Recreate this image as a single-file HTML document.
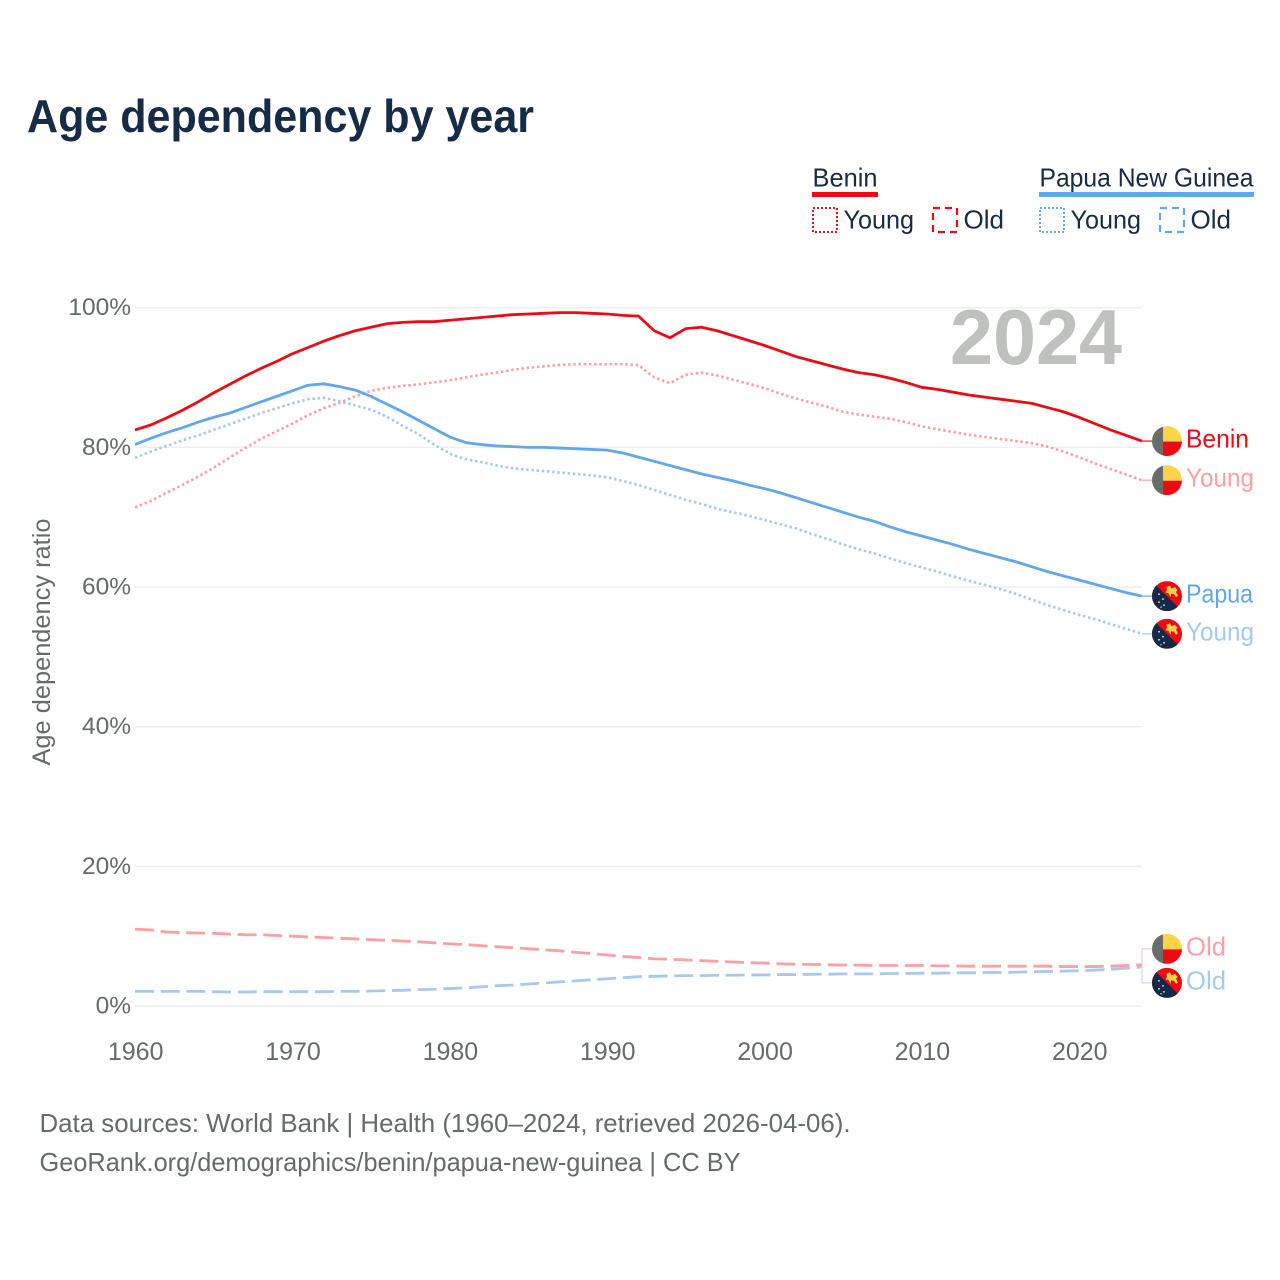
<!DOCTYPE html>
<html lang="en">
<head>
<meta charset="utf-8">
<title>Age dependency by year</title>
<style>
html,body{margin:0;padding:0;background:#fff;}
svg{display:block;}
text{font-family:"Liberation Sans",sans-serif;}
</style>
</head>
<body>
<svg id="chart" width="1280" height="1280" viewBox="0 0 1280 1280" xmlns="http://www.w3.org/2000/svg">
  <defs>
    <clipPath id="flag-clip"><circle cx="0" cy="0" r="15"/></clipPath>
    <symbol id="flag-benin" viewBox="-15 -15 30 30" width="30" height="30" overflow="visible">
      <g clip-path="url(#flag-clip)">
        <rect x="-15" y="-15" width="11" height="30" fill="#696d69"/>
        <rect x="-4" y="-15" width="19" height="15.5" fill="#fdd447"/>
        <rect x="-4" y="0.5" width="19" height="14.5" fill="#ec0b15"/>
      </g>
    </symbol>
    <symbol id="flag-png" viewBox="-15 -15 30 30" width="30" height="30" overflow="visible">
      <g clip-path="url(#flag-clip)">
        <rect x="-15" y="-15" width="30" height="30" fill="#ec0b15"/>
        <polygon points="-15,-15 15,15 -15,15" fill="#152a47"/>
        <polygon points="-0.5,-9 3,-10.5 4.5,-7.5 8,-9 10.5,-6 9,-4 11,-0.5 9,1 7,-2 4,-2.5 3.5,1 1.5,-3 -1.5,-3.5 0,-6" fill="#fdd447"/>
        <circle cx="-8" cy="-2" r="0.9" fill="#e8e8e8"/>
        <circle cx="-4" cy="3" r="0.9" fill="#e8e8e8"/>
        <circle cx="-8" cy="6" r="0.9" fill="#e8e8e8"/>
        <circle cx="-3" cy="9" r="0.9" fill="#e8e8e8"/>
        <circle cx="-6" cy="11" r="0.7" fill="#e8e8e8"/>
      </g>
    </symbol>
  </defs>

  <text x="27" y="132" font-size="46" font-weight="700" fill="#172b47" textLength="507" lengthAdjust="spacingAndGlyphs">Age dependency by year</text>

  <g>
    <g>
      <text x="812.5" y="186.5" font-size="26" fill="#172b47" textLength="65" lengthAdjust="spacingAndGlyphs">Benin</text>
      <rect x="812" y="192" width="66" height="5" fill="#ec0b15"/>
      <rect x="813" y="208" width="24" height="24" fill="none" stroke="#ec0b15" stroke-width="2" stroke-dasharray="2 2"/>
      <text x="843.5" y="228.5" font-size="26" fill="#172b47" textLength="70.5" lengthAdjust="spacingAndGlyphs">Young</text>
      <rect x="933" y="208" width="24" height="24" fill="none" stroke="#ec0b15" stroke-width="2.2" stroke-dasharray="7 5"/>
      <text x="963.5" y="228.5" font-size="26" fill="#172b47" textLength="40.5" lengthAdjust="spacingAndGlyphs">Old</text>
    </g>
    <g>
      <text x="1039.5" y="186.5" font-size="26" fill="#172b47" textLength="214" lengthAdjust="spacingAndGlyphs">Papua New Guinea</text>
      <rect x="1039" y="192" width="215" height="5" fill="#62a6ec"/>
      <rect x="1040" y="208" width="24" height="24" fill="none" stroke="#62a6ec" stroke-width="2" stroke-dasharray="2 2"/>
      <text x="1070.5" y="228.5" font-size="26" fill="#172b47" textLength="70.5" lengthAdjust="spacingAndGlyphs">Young</text>
      <rect x="1160" y="208" width="24" height="24" fill="none" stroke="#62a6ec" stroke-width="2.2" stroke-dasharray="7 5"/>
      <text x="1190.5" y="228.5" font-size="26" fill="#172b47" textLength="40.5" lengthAdjust="spacingAndGlyphs">Old</text>
    </g>
  </g>

  <g id="grid"></g>
  <text x="950" y="364" font-size="78" font-weight="700" fill="#bfc1bf" textLength="172" lengthAdjust="spacingAndGlyphs">2024</text>
  <g id="y-ticks"></g>
  <g id="x-ticks"></g>
  <text transform="translate(50,642) rotate(-90)" text-anchor="middle" font-size="25" fill="#666b67" textLength="247" lengthAdjust="spacingAndGlyphs">Age dependency ratio</text>
  <g id="series"></g>
  <g id="end-labels"></g>

  <text x="39.5" y="1132" font-size="26" fill="#666b67" textLength="811" lengthAdjust="spacingAndGlyphs">Data sources: World Bank | Health (1960–2024, retrieved 2026-04-06).</text>
  <text x="39.5" y="1171" font-size="26" fill="#666b67" textLength="701" lengthAdjust="spacingAndGlyphs">GeoRank.org/demographics/benin/papua-new-guinea | CC BY</text>
</svg>

<script>
const firstYear = 1960;
const lastYear = 2024;
const xTickLabels = [1960, 1970, 1980, 1990, 2000, 2010, 2020];
const yTickLabels = [0, 20, 40, 60, 80, 100];

const beninTotal = [
  82.5,83.2,84.2,85.3,86.5,87.8,89.0,90.2,91.3,92.3,
  93.4,94.3,95.2,96.0,96.7,97.2,97.7,97.9,98.0,98.0,
  98.2,98.4,98.6,98.8,99.0,99.1,99.2,99.3,99.3,99.2,
  99.1,98.9,98.8,96.7,95.7,97.0,97.2,96.7,96.0,95.3,
  94.6,93.8,93.0,92.4,91.8,91.2,90.7,90.4,89.9,89.3,
  88.6,88.3,87.9,87.5,87.2,86.9,86.6,86.3,85.7,85.1,
  84.3,83.4,82.5,81.7,80.9];
const beninYoung = [
  71.4,72.3,73.5,74.6,75.8,77.1,78.5,79.9,81.2,82.3,
  83.4,84.6,85.6,86.4,87.3,88.1,88.5,88.8,89.0,89.3,
  89.6,90.0,90.4,90.7,91.1,91.4,91.6,91.8,91.9,91.9,
  91.9,91.9,91.8,90.0,89.2,90.4,90.7,90.3,89.7,89.1,
  88.5,87.7,87.0,86.4,85.8,85.1,84.7,84.4,84.1,83.6,
  83.0,82.6,82.2,81.8,81.5,81.2,80.9,80.6,80.1,79.4,
  78.6,77.7,76.9,76.1,75.3];
const beninOld = [
  11.0,10.9,10.6,10.5,10.45,10.4,10.3,10.2,10.2,10.1,
  10.0,9.9,9.8,9.7,9.6,9.5,9.4,9.3,9.2,9.05,
  8.9,8.8,8.65,8.5,8.35,8.2,8.05,7.9,7.7,7.5,
  7.3,7.1,6.95,6.75,6.7,6.6,6.5,6.4,6.3,6.2,
  6.15,6.05,6.0,5.95,5.9,5.85,5.85,5.8,5.8,5.8,
  5.8,5.75,5.75,5.7,5.7,5.7,5.7,5.7,5.7,5.65,
  5.65,5.65,5.7,5.8,5.9];
const pngTotal = [
  80.4,81.3,82.1,82.8,83.6,84.3,84.9,85.7,86.5,87.3,
  88.1,88.9,89.1,88.7,88.2,87.3,86.2,85.1,83.9,82.7,
  81.5,80.7,80.4,80.2,80.1,80.0,80.0,79.9,79.8,79.7,
  79.6,79.2,78.6,78.0,77.4,76.8,76.2,75.7,75.2,74.6,
  74.1,73.5,72.8,72.1,71.4,70.7,70.0,69.4,68.6,67.9,
  67.3,66.7,66.1,65.4,64.8,64.2,63.6,62.9,62.2,61.6,
  61.0,60.4,59.8,59.2,58.7];
const pngYoung = [
  78.5,79.4,80.2,81.0,81.7,82.5,83.3,84.1,84.9,85.6,
  86.3,86.9,87.1,86.6,86.0,85.4,84.4,83.1,81.9,80.4,
  79.1,78.3,77.9,77.4,77.0,76.8,76.6,76.4,76.2,76.0,
  75.7,75.2,74.6,73.9,73.2,72.5,71.9,71.2,70.7,70.2,
  69.6,69.0,68.4,67.6,66.9,66.1,65.4,64.8,64.1,63.4,
  62.8,62.2,61.5,60.9,60.3,59.7,59.0,58.2,57.4,56.7,
  56.0,55.4,54.7,54.0,53.3];
const pngOld = [
  2.1,2.1,2.1,2.1,2.1,2.05,2.0,2.0,2.05,2.05,
  2.05,2.05,2.05,2.1,2.1,2.15,2.2,2.25,2.35,2.4,
  2.5,2.6,2.75,2.9,3.0,3.15,3.3,3.45,3.6,3.75,
  3.9,4.05,4.2,4.25,4.3,4.35,4.35,4.4,4.4,4.45,
  4.45,4.5,4.5,4.55,4.55,4.6,4.6,4.6,4.65,4.65,
  4.7,4.7,4.75,4.75,4.8,4.8,4.85,4.9,4.95,5.0,
  5.05,5.15,5.25,5.4,5.6];

const NS = 'http://www.w3.org/2000/svg';
function xScale(year) { return 135 + (year - firstYear) * (1142 - 135) / (lastYear - firstYear); }
function yScale(pct) { return 1006 - pct * (1006 - 307.7) / 100; }

const gridG = document.getElementById('grid');
const yTickG = document.getElementById('y-ticks');
yTickLabels.forEach(function (t) {
  const line = document.createElementNS(NS, 'line');
  
  
  line.setAttribute('x1', 135);
  line.setAttribute('x2', 1142);
  line.setAttribute('y1', yScale(t));
  line.setAttribute('y2', yScale(t));
  line.setAttribute('stroke', '#eeeeee');
  line.setAttribute('stroke-width', '1.4');
  gridG.appendChild(line);
  const label = document.createElementNS(NS, 'text');
  
  
  label.setAttribute('x', 131);
  label.setAttribute('y', yScale(t) + 7.5);
  label.setAttribute('text-anchor', 'end');
  label.setAttribute('font-size', '24.5');
  label.setAttribute('fill', '#666b67');
  label.textContent = t + '%';
  yTickG.appendChild(label);
});

const xTickG = document.getElementById('x-ticks');
xTickLabels.forEach(function (t) {
  const label = document.createElementNS(NS, 'text');
  
  
  label.setAttribute('x', xScale(t) + 0.7);
  label.setAttribute('y', 1060);
  label.setAttribute('text-anchor', 'middle');
  label.setAttribute('font-size', '25');
  label.setAttribute('fill', '#666b67');
  label.textContent = t;
  xTickG.appendChild(label);
});

const seriesDefs = [
  { key: 'png-old', values: pngOld, color: '#a5c9ef', dash: '19 6.7', width: 2.8 },
  { key: 'benin-old', values: beninOld, color: '#ff9fa3', dash: '19 6.7', width: 2.8 },
  { key: 'png-young', values: pngYoung, color: '#a5c9ef', dash: '2.5 2.7', width: 2.6 },
  { key: 'benin-young', values: beninYoung, color: '#ff9fa3', dash: '2.5 2.7', width: 2.6 },
  { key: 'png-total', values: pngTotal, color: '#62a6ec', dash: '', width: 2.8 },
  { key: 'benin-total', values: beninTotal, color: '#ec0b15', dash: '', width: 2.8 }
];

const seriesG = document.getElementById('series');
seriesDefs.forEach(function (s) {
  let d = '';
  s.values.forEach(function (v, i) {
    d += (i === 0 ? 'M' : 'L') + xScale(firstYear + i).toFixed(2) + ' ' + yScale(v).toFixed(2);
  });
  const path = document.createElementNS(NS, 'path');
  
  
  path.setAttribute('d', d);
  path.setAttribute('fill', 'none');
  path.setAttribute('stroke', s.color);
  path.setAttribute('stroke-width', s.width);
  path.setAttribute('stroke-linejoin', 'round');
  if (s.dash) path.setAttribute('stroke-dasharray', s.dash);
  seriesG.appendChild(path);
});

const labelDefs = [
  { key: 'benin-total', text: 'Benin', flag: 'flag-benin', values: beninTotal, color: '#ec0b15', line: '#ec0b15', width: 63, offset: 0 },
  { key: 'benin-young', text: 'Young', flag: 'flag-benin', values: beninYoung, color: '#ff9fa3', line: '#ff9fa3', width: 68, offset: 0 },
  { key: 'png-total', text: 'Papua', flag: 'flag-png', values: pngTotal, color: '#62a6ec', line: '#62a6ec', width: 67, offset: 0 },
  { key: 'png-young', text: 'Young', flag: 'flag-png', values: pngYoung, color: '#a5c9ef', line: '#a5c9ef', width: 68, offset: 0 },
  { key: 'benin-old', text: 'Old', flag: 'flag-benin', values: beninOld, color: '#ff9fa3', line: '#ffc9cb', width: 40, offset: -17 },
  { key: 'png-old', text: 'Old', flag: 'flag-png', values: pngOld, color: '#a5c9ef', line: '#c3dbf4', width: 40, offset: 17 }
];

const labelsG = document.getElementById('end-labels');
const oldMid = (yScale(beninOld[beninOld.length - 1]) + yScale(pngOld[pngOld.length - 1])) / 2;
labelDefs.forEach(function (l) {
  const endY = yScale(l.values[l.values.length - 1]);
  const flagY = l.offset === 0 ? endY : oldMid + l.offset;
  const conn = document.createElementNS(NS, 'polyline');
  
  
  conn.setAttribute('points', '1142,' + endY + ' 1142,' + flagY + ' 1152,' + flagY);
  conn.setAttribute('fill', 'none');
  conn.setAttribute('stroke', l.line);
  conn.setAttribute('stroke-width', '1.2');
  labelsG.appendChild(conn);
  const flag = document.createElementNS(NS, 'use');
  
  
  flag.setAttribute('href', '#' + l.flag);
  flag.setAttribute('x', 1152);
  flag.setAttribute('y', flagY - 15);
  flag.setAttribute('width', 30);
  flag.setAttribute('height', 30);
  labelsG.appendChild(flag);
  const label = document.createElementNS(NS, 'text');
  
  
  label.setAttribute('x', 1186);
  label.setAttribute('y', flagY + 6.5);
  label.setAttribute('font-size', '26');
  label.setAttribute('fill', l.color);
  label.setAttribute('textLength', l.width);
  label.setAttribute('lengthAdjust', 'spacingAndGlyphs');
  label.textContent = l.text;
  labelsG.appendChild(label);
});
</script>
</body>
</html>
